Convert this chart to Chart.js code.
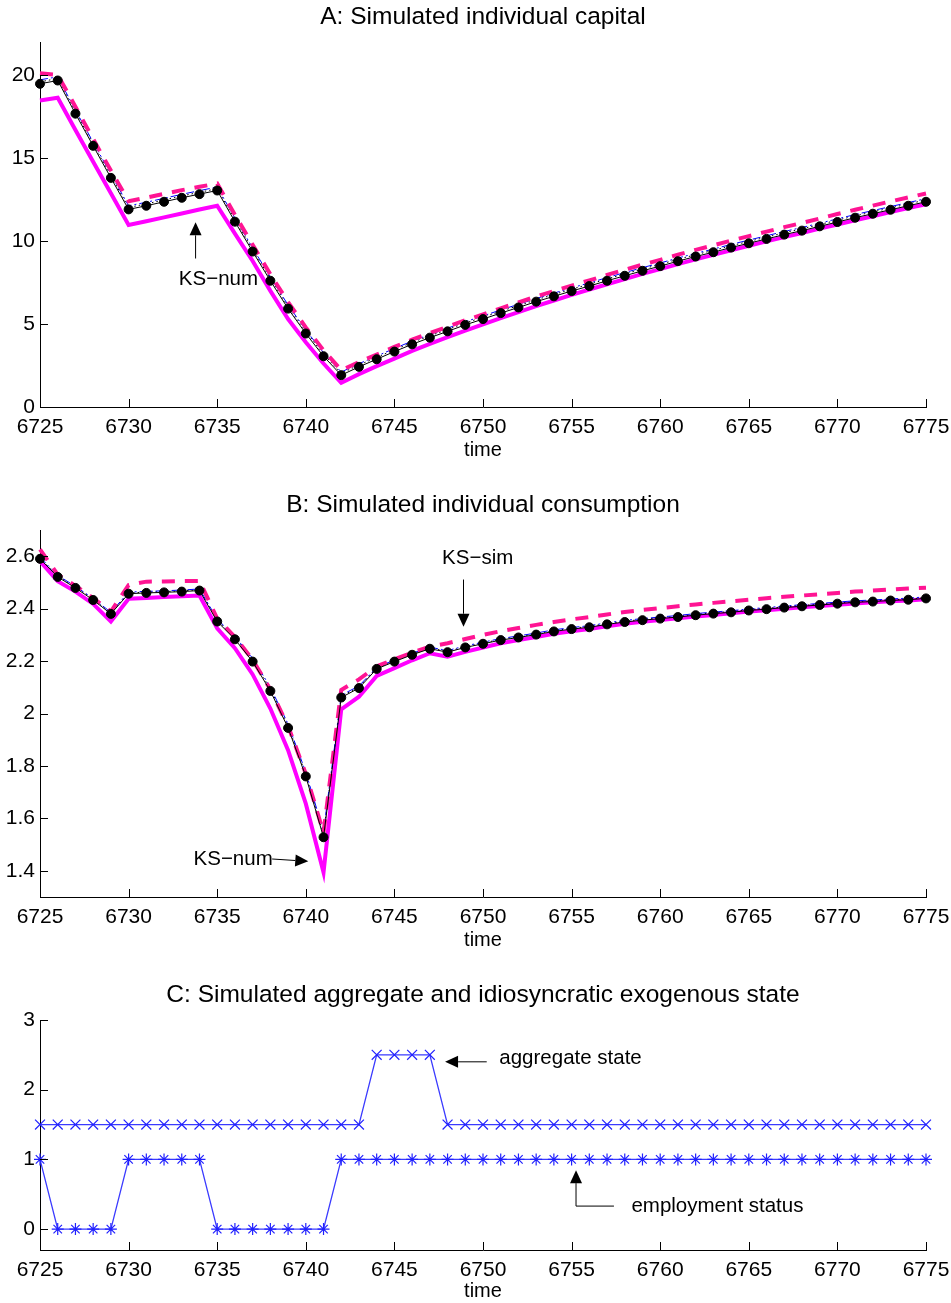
<!DOCTYPE html>
<html>
<head>
  <title>Simulated individual capital, consumption and exogenous state</title>
  <script src="https://cdn.jsdelivr.net/npm/chart.js"></script>
  <style>
    body { margin: 0; background: #fff; }
    canvas { position: absolute; left: 0; }
  </style>
</head>
<body>
  <canvas id="chartA" width="951" height="462" style="top:0px"></canvas>
  <canvas id="chartB" width="951" height="482" style="top:470px"></canvas>
  <canvas id="chartC" width="951" height="343" style="top:960px"></canvas>
  <script>
    // time axis
    const time = [6725, 6726, 6727, 6728, 6729, 6730, 6731, 6732, 6733, 6734, 6735, 6736, 6737, 6738, 6739, 6740, 6741,
      6742, 6743, 6744, 6745, 6746, 6747, 6748, 6749, 6750, 6751, 6752, 6753, 6754, 6755, 6756, 6757, 6758, 6759, 6760,
      6761, 6762, 6763, 6764, 6765, 6766, 6767, 6768, 6769, 6770, 6771, 6772, 6773, 6774, 6775];
    const xTicks = [6725, 6730, 6735, 6740, 6745, 6750, 6755, 6760, 6765, 6770, 6775];

    // A: individual capital
    const capDots = [19.48, 19.68, 17.68, 15.74, 13.81, 11.91, 12.13, 12.37, 12.61, 12.83, 13.05, 11.17, 9.37, 7.61, 5.93, 4.43, 3.06,
      1.92, 2.42, 2.88, 3.34, 3.78, 4.18, 4.56, 4.95, 5.30, 5.66, 6.00, 6.35, 6.67, 6.99, 7.29, 7.61, 7.91, 8.21, 8.49,
      8.79, 9.07, 9.33, 9.61, 9.87, 10.13, 10.39, 10.63, 10.89, 11.15, 11.41, 11.65, 11.89, 12.13, 12.37];
    const capDotted = [19.60, 19.80, 17.80, 15.86, 13.93, 12.03, 12.24, 12.48, 12.72, 12.94, 13.16, 11.29, 9.49, 7.73, 6.05, 4.55, 3.18,
      2.03, 2.53, 2.99, 3.45, 3.89, 4.29, 4.67, 5.06, 5.41, 5.77, 6.11, 6.46, 6.78, 7.10, 7.40, 7.72, 8.02, 8.32, 8.60,
      8.90, 9.18, 9.44, 9.72, 9.98, 10.24, 10.50, 10.74, 11.00, 11.26, 11.52, 11.76, 12.00, 12.24, 12.48];
    const capDashDot = [19.72, 19.90, 17.90, 15.96, 14.03, 12.13, 12.34, 12.58, 12.82, 13.04, 13.26, 11.39, 9.59, 7.83, 6.15, 4.64, 3.27,
      2.11, 2.61, 3.07, 3.53, 3.97, 4.37, 4.75, 5.14, 5.49, 5.85, 6.19, 6.54, 6.86, 7.18, 7.48, 7.80, 8.10, 8.40, 8.68,
      8.98, 9.26, 9.52, 9.80, 10.06, 10.32, 10.58, 10.82, 11.08, 11.34, 11.60, 11.84, 12.08, 12.32, 12.56];
    const capKSsim = [20.12, 20.02, 18.10, 16.15, 14.25, 12.40, 12.62, 12.85, 13.07, 13.27, 13.47, 11.58, 9.78, 8.00, 6.32, 4.80, 3.42,
      2.22, 2.70, 3.16, 3.62, 4.06, 4.46, 4.84, 5.23, 5.58, 5.95, 6.30, 6.66, 6.99, 7.32, 7.63, 7.96, 8.27, 8.58, 8.87,
      9.18, 9.47, 9.74, 10.03, 10.30, 10.57, 10.84, 11.09, 11.36, 11.63, 11.89, 12.14, 12.39, 12.63, 12.87];
    const capKSnum = [18.48, 18.64, 16.70, 14.78, 12.88, 10.97, 11.20, 11.43, 11.66, 11.90, 12.13, 10.45, 8.80, 7.00, 5.30, 3.90, 2.62,
      1.46, 1.98, 2.46, 2.92, 3.38, 3.80, 4.21, 4.60, 4.98, 5.36, 5.72, 6.08, 6.42, 6.76, 7.08, 7.40, 7.71, 8.02, 8.31,
      8.61, 8.90, 9.17, 9.45, 9.72, 9.98, 10.24, 10.49, 10.75, 11.00, 11.26, 11.50, 11.75, 11.99, 12.22];
    const capTicks = [0, 5, 10, 15, 20];

    // B: individual consumption
    const conDots = [2.590, 2.521, 2.479, 2.433, 2.380, 2.457, 2.460, 2.462, 2.465, 2.469, 2.351, 2.283, 2.198, 2.086, 1.945, 1.760, 1.528,
      2.061, 2.097, 2.170, 2.198, 2.224, 2.247, 2.234, 2.252, 2.266, 2.280, 2.290, 2.301, 2.313, 2.322, 2.329, 2.340, 2.349, 2.356, 2.362,
      2.368, 2.375, 2.381, 2.386, 2.393, 2.398, 2.404, 2.409, 2.414, 2.419, 2.424, 2.427, 2.431, 2.434, 2.439];
    const conDotted = [2.593, 2.524, 2.482, 2.436, 2.383, 2.460, 2.463, 2.465, 2.468, 2.472, 2.356, 2.289, 2.205, 2.094, 1.953, 1.768, 1.540,
      2.066, 2.101, 2.173, 2.201, 2.227, 2.250, 2.237, 2.255, 2.269, 2.283, 2.293, 2.304, 2.316, 2.325, 2.332, 2.343, 2.352, 2.359, 2.365,
      2.371, 2.378, 2.384, 2.389, 2.396, 2.401, 2.407, 2.412, 2.417, 2.422, 2.427, 2.430, 2.434, 2.437, 2.442];
    const conDashDot = [2.596, 2.527, 2.485, 2.439, 2.386, 2.463, 2.466, 2.468, 2.471, 2.475, 2.360, 2.294, 2.211, 2.100, 1.960, 1.776, 1.550,
      2.070, 2.105, 2.176, 2.204, 2.230, 2.253, 2.240, 2.258, 2.272, 2.286, 2.296, 2.307, 2.319, 2.328, 2.335, 2.346, 2.355, 2.362, 2.368,
      2.374, 2.381, 2.387, 2.392, 2.399, 2.404, 2.410, 2.415, 2.420, 2.425, 2.430, 2.433, 2.437, 2.440, 2.445];
    const conKSsim = [2.626, 2.530, 2.487, 2.440, 2.389, 2.490, 2.503, 2.504, 2.505, 2.506, 2.362, 2.292, 2.205, 2.092, 1.952, 1.770, 1.545,
      2.090, 2.130, 2.180, 2.207, 2.232, 2.255, 2.268, 2.284, 2.300, 2.314, 2.326, 2.338, 2.349, 2.359, 2.368, 2.378, 2.387, 2.395, 2.402,
      2.409, 2.416, 2.422, 2.428, 2.434, 2.440, 2.445, 2.450, 2.455, 2.460, 2.465, 2.469, 2.473, 2.477, 2.480];
    const conKSnum = [2.581, 2.505, 2.465, 2.418, 2.351, 2.438, 2.441, 2.444, 2.447, 2.450, 2.325, 2.249, 2.149, 2.019, 1.860, 1.656, 1.394,
      2.016, 2.064, 2.143, 2.173, 2.203, 2.230, 2.217, 2.235, 2.252, 2.268, 2.280, 2.292, 2.304, 2.314, 2.322, 2.333, 2.342, 2.350, 2.357,
      2.363, 2.370, 2.376, 2.382, 2.389, 2.394, 2.400, 2.405, 2.410, 2.415, 2.420, 2.424, 2.428, 2.431, 2.436];
    const conTicks = [1.4, 1.6, 1.8, 2, 2.2, 2.4, 2.6];

    // C: exogenous states
    const aggState = [1.5, 1.5, 1.5, 1.5, 1.5, 1.5, 1.5, 1.5, 1.5, 1.5, 1.5, 1.5, 1.5, 1.5, 1.5, 1.5, 1.5,
      1.5, 1.5, 2.5, 2.5, 2.5, 2.5, 1.5, 1.5, 1.5, 1.5, 1.5, 1.5, 1.5, 1.5, 1.5, 1.5, 1.5, 1.5, 1.5,
      1.5, 1.5, 1.5, 1.5, 1.5, 1.5, 1.5, 1.5, 1.5, 1.5, 1.5, 1.5, 1.5, 1.5, 1.5];
    const empStatus = [1, 0, 0, 0, 0, 1, 1, 1, 1, 1, 0, 0, 0, 0, 0, 0, 0,
      1, 1, 1, 1, 1, 1, 1, 1, 1, 1, 1, 1, 1, 1, 1, 1, 1, 1, 1,
      1, 1, 1, 1, 1, 1, 1, 1, 1, 1, 1, 1, 1, 1, 1];
    const stateTicks = [0, 1, 2, 3];

    const FONT = '"Liberation Sans", Arial, Helvetica, sans-serif';
    const pts = ys => ys.map((v, i) => ({ x: time[i], y: v }));

    const inwardTicks = {
      id: 'inwardTicks',
      afterDraw(chart) {
        const { ctx, chartArea: a, scales: { x, y } } = chart;
        ctx.save();
        ctx.strokeStyle = '#000';
        ctx.lineWidth = 1;
        ctx.beginPath();
        x.ticks.forEach(t => {
          const px = Math.round(x.getPixelForValue(t.value)) + 0.5;
          ctx.moveTo(px, a.bottom); ctx.lineTo(px, a.bottom - 8);
        });
        y.ticks.forEach(t => {
          const py = Math.round(y.getPixelForValue(t.value)) + 0.5;
          ctx.moveTo(a.left, py); ctx.lineTo(a.left + 8, py);
        });
        ctx.stroke();
        ctx.restore();
      }
    };

    // titles, text labels and arrows, placed in data units
    function notes(title, labels, arrows) {
      return {
        id: 'notes',
        afterDraw(chart) {
          const { ctx, chartArea: a, scales: { x, y } } = chart;
          ctx.save();
          ctx.fillStyle = '#000';
          ctx.strokeStyle = '#000';
          ctx.textAlign = 'center';
          ctx.textBaseline = 'middle';
          ctx.font = '24.5px ' + FONT;
          ctx.fillText(title, (a.left + a.right) / 2, a.top - 25);
          ctx.font = '20.5px ' + FONT;
          labels.forEach(l => ctx.fillText(l.text, x.getPixelForValue(l.x), y.getPixelForValue(l.y)));
          arrows.forEach(arr => {
            const p = arr.map(([vx, vy]) => [x.getPixelForValue(vx), y.getPixelForValue(vy)]);
            const [ex, ey] = p[p.length - 1];
            const [sx, sy] = p[p.length - 2];
            const len = Math.hypot(ex - sx, ey - sy);
            const ux = (ex - sx) / len, uy = (ey - sy) / len;
            const bx = ex - ux * 13, by = ey - uy * 13;
            ctx.lineWidth = 1;
            ctx.beginPath();
            ctx.moveTo(p[0][0], p[0][1]);
            for (let i = 1; i < p.length - 1; i++) ctx.lineTo(p[i][0], p[i][1]);
            ctx.lineTo(bx, by);
            ctx.stroke();
            ctx.beginPath();
            ctx.moveTo(ex, ey);
            ctx.lineTo(bx - uy * 6, by + ux * 6);
            ctx.lineTo(bx + uy * 6, by - ux * 6);
            ctx.closePath();
            ctx.fill();
          });
          ctx.restore();
        }
      };
    }

    function axes(yMin, yMax, yTicks, xHeight) {
      return {
        x: {
          type: 'linear', min: 6725, max: 6775,
          afterBuildTicks: s => { s.ticks = xTicks.map(v => ({ value: v })); },
          afterFit: s => { s.height = xHeight; s.paddingLeft = 0; s.paddingRight = 0; },
          grid: { display: false, drawTicks: false },
          border: { display: true, color: '#000', width: 1 },
          ticks: { color: '#000', padding: 8, maxRotation: 0, font: { family: FONT, size: 21 }, callback: v => String(v) },
          title: { display: true, text: 'time', color: '#000', padding: 0, font: { family: FONT, size: 20 } }
        },
        y: {
          min: yMin, max: yMax,
          afterBuildTicks: s => { s.ticks = yTicks.map(v => ({ value: v })); },
          afterFit: s => { s.width = 40; },
          grid: { display: false, drawTicks: false },
          border: { display: true, color: '#000', width: 1 },
          ticks: { color: '#000', padding: 5, font: { family: FONT, size: 21 }, callback: v => String(v) }
        }
      };
    }

    function baseOptions(top, scales) {
      return {
        responsive: false,
        animation: false,
        layout: { padding: { top: top, right: 25, left: 0, bottom: 0 } },
        plugins: { legend: { display: false }, tooltip: { enabled: false } },
        scales: scales
      };
    }

    function fiveLines(dots, dotted, dashDot, ksSim, ksNum) {
      return [
        { data: pts(dots), borderColor: '#000', borderWidth: 1, pointRadius: 4.5, pointBackgroundColor: '#000', pointBorderColor: '#000', clip: false },
        { data: pts(ksSim), borderColor: '#ff1493', borderWidth: 4, borderDash: [13, 10], pointRadius: 0, clip: false },
        { data: pts(dashDot), borderColor: '#0000ff', borderWidth: 1, borderDash: [8, 3, 2, 3], pointRadius: 0, clip: false },
        { data: pts(dotted), borderColor: '#000', borderWidth: 1, borderDash: [1.5, 3], pointRadius: 0, clip: false },
        { data: pts(ksNum), borderColor: '#ff00ff', borderWidth: 4, pointRadius: 0, clip: false }
      ];
    }

    new Chart(document.getElementById('chartA'), {
      type: 'line',
      data: { datasets: fiveLines(capDots, capDotted, capDashDot, capKSsim, capKSnum) },
      options: baseOptions(42, axes(0, 22, capTicks, 55)),
      plugins: [inwardTicks, notes('A: Simulated individual capital',
        [{ text: 'KS\u2212num', x: 6735.07, y: 7.67 }],
        [[[6733.78, 8.95], [6733.78, 11.13]]])]
    });

    new Chart(document.getElementById('chartB'), {
      type: 'line',
      data: { datasets: fiveLines(conDots, conDotted, conDashDot, conKSsim, conKSnum) },
      options: baseOptions(60, axes(1.3, 2.7, conTicks, 55)),
      plugins: [inwardTicks, notes('B: Simulated individual consumption',
        [{ text: 'KS\u2212sim', x: 6749.7, y: 2.592 }, { text: 'KS\u2212num', x: 6735.9, y: 1.445 }],
        [[[6748.9, 2.511], [6748.9, 2.331]], [[6738.1, 1.445], [6740.14, 1.436]]])]
    });

    new Chart(document.getElementById('chartC'), {
      type: 'line',
      data: {
        datasets: [
          { data: pts(aggState), borderColor: '#3a3aff', borderWidth: 1.3, pointStyle: 'crossRot', pointRadius: 7,
            pointBorderColor: '#2020ff', pointBorderWidth: 1.2, clip: false },
          { data: pts(empStatus), borderColor: '#3a3aff', borderWidth: 1.3, pointStyle: 'star', pointRadius: 6,
            pointBorderColor: '#2020ff', pointBorderWidth: 1.2, clip: false }
        ]
      },
      options: baseOptions(60, axes(-0.3, 3, stateTicks, 53)),
      plugins: [inwardTicks, notes('C: Simulated aggregate and idiosyncratic exogenous state',
        [{ text: 'aggregate state', x: 6754.94, y: 2.453 }, { text: 'employment status', x: 6763.23, y: 0.33 }],
        [[[6750.21, 2.40], [6747.86, 2.40]], [[6757.39, 0.33], [6755.25, 0.33], [6755.25, 0.846]]])]
    });
  </script>
</body>
</html>
